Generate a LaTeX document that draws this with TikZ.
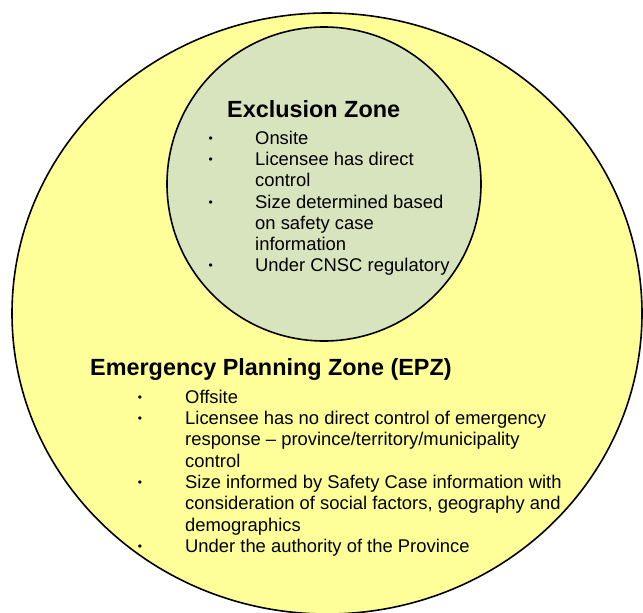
\documentclass[tikz,border=0pt]{standalone}
\usepackage{fontspec}
\setmainfont{Liberation Sans}
\usetikzlibrary{shapes.geometric}
\definecolor{epzfill}{HTML}{FFFF99}
\definecolor{exzfill}{HTML}{D7E4BD}
\tikzset{
  zoneline/.style={draw=black, line width=1.6pt, inner sep=0pt, outer sep=0pt},
  ztitle/.style={anchor=base west, inner sep=0pt, font=\fontsize{23.4}{28}\selectfont\bfseries},
  zitem/.style={anchor=base west, inner sep=0pt, font=\fontsize{18.4}{21.3}\selectfont},
  zbullet/.style={anchor=base, inner sep=0pt, font=\fontsize{12}{14}\selectfont}
}
\begin{document}
\begin{tikzpicture}[x=1pt,y=-1pt]
\useasboundingbox (0,0) rectangle (643,613);
\begin{scope}
  \clip (0,0) rectangle (643,613);
  \node[ellipse, zoneline, fill=epzfill, minimum width=630pt, minimum height=601pt] (epz) at (327,313.5) {};
\end{scope}
\node[circle, zoneline, fill=exzfill, minimum size=314pt] (exz) at (324,184) {};

% Exclusion zone text
\node[ztitle] (extitle) at (227,117.3) {Exclusion Zone};
\node[zbullet] (eb1) at (210.7,142.5) {•};
\node[zitem] (e1) at (255,144.5) {Onsite};
\node[zbullet] (eb2) at (210.7,163.7) {•};
\node[zitem] (e2) at (255,165.7) {Licensee has direct};
\node[zitem] (e3) at (255,186.9) {control};
\node[zbullet] (eb3) at (210.7,206.1) {•};
\node[zitem] (e4) at (255,208.1) {Size determined based};
\node[zitem] (e5) at (255,229.3) {on safety case};
\node[zitem] (e6) at (255,250.5) {information};
\node[zbullet] (eb4) at (210.7,269.7) {•};
\begin{scope}
  \clip (0,0) rectangle (643,274);
  \node[zitem] (e7) at (255,271.7) {Under CNSC regulatory};
\end{scope}

% EPZ text
\node[ztitle] (ptitle) at (90,375.7) {Emergency Planning Zone (EPZ)};
\node[zbullet] (pb1) at (140,401.3) {•};
\node[zitem] (p1) at (185,403.3) {Offsite};
\node[zbullet] (pb2) at (140,422.6) {•};
\node[zitem] (p2) at (185,424.6) {Licensee has no direct control of emergency};
\node[zitem] (p3) at (185,445.9) {response – province/territory/municipality};
\node[zitem] (p4) at (185,467.2) {control};
\node[zbullet] (pb3) at (140,486.5) {•};
\node[zitem] (p5) at (185,488.5) {Size informed by Safety Case information with};
\node[zitem] (p6) at (185,509.8) {consideration of social factors, geography and};
\node[zitem] (p7) at (185,531.1) {demographics};
\node[zbullet] (pb4) at (140,550.4) {•};
\node[zitem] (p8) at (185,552.4) {Under the authority of the Province};
\end{tikzpicture}
\end{document}
